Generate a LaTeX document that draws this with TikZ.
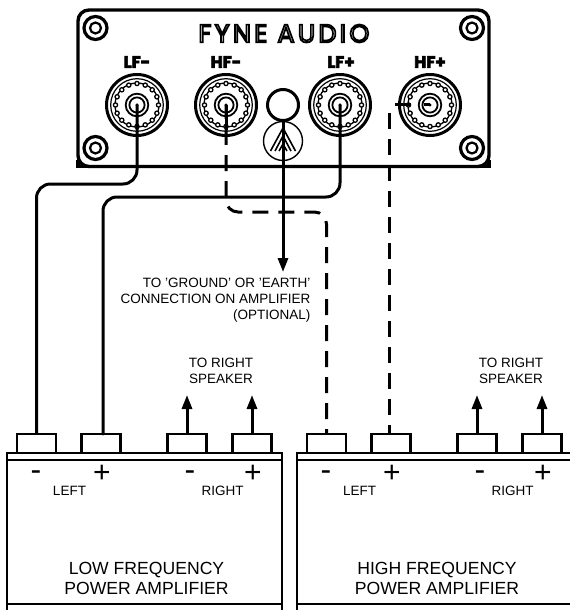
\documentclass[tikz,border=0pt]{standalone}
\usepackage{fontspec}
\setmainfont{Liberation Sans}
\newfontfamily\titlefont[LetterSpace=13]{Poppins}
\newfontfamily\jackfont{Poppins}
\usetikzlibrary{arrows.meta}
\tikzset{
  x=1bp,y=-1bp,
  panel/.style={draw,line width=3.4bp},
  wire/.style={draw,line width=3bp,line cap=round},
  dashwire/.style={wire,line cap=butt,dash pattern=on 16bp off 10bp},
  feed/.style={wire,line cap=butt,-{Triangle[length=14bp,width=10bp]}},
  term/.style={draw,line width=2.1bp,minimum width=39bp,minimum height=19bp,inner sep=0pt,fill=white},
  lab/.style={font=\fontsize{13.5bp}{16bp}\selectfont,align=center,inner sep=0pt},
  big/.style={font=\fontsize{17.6bp}{19.6bp}\selectfont,align=center,inner sep=0pt},
  plus/.style={font=\fontsize{30bp}{30bp}\selectfont,inner sep=0pt},
  minus/.style={font=\fontsize{32bp}{32bp}\selectfont,inner sep=0pt},
  jacklab/.style={inner sep=0pt},
  jack/.style={circle,inner sep=0pt,minimum size=62bp}
}
\newcommand{\jacktext}[1]{\special{pdf:code q 2 Tr 0.7 w 0 0 0 RG 0 0 0 rg}\jackfont\bfseries\fontsize{16.5bp}{17bp}\selectfont #1\special{pdf:code Q}}
\newcommand{\drawjack}[2]{%
  \begin{scope}[shift={#1}]
    \draw[line width=3bp] (0,0) circle (30.5bp);
    \draw[line width=1.2bp] (0,0) circle (26.3bp);
    \draw[line width=1.3bp] (0,0) circle (22bp);
    \foreach \a in {0,22.5,...,337.5}{\draw[line width=1.3bp,fill=white] (\a:21.5bp) circle (2.1bp);}
    \draw[line width=1.8bp] (0,0) circle (11.3bp);
    \draw[line width=1.8bp] (0,0) circle (7.6bp);
    \fill (0,0) circle (1.6bp);
  \end{scope}
  \node[jack] (#2) at #1 {};
}
\newcommand{\drawscrew}[1]{%
  \draw[line width=3.2bp] #1 circle (11.5bp);
  \draw[line width=2.2bp] #1 circle (5.5bp);
}
\newcommand{\drawamp}[1]{%
  \begin{scope}[xshift=#1]
    \draw[line width=2bp] (7,612)--(7,453.3)--(281.8,453.3)--(281.8,612);
    \draw[line width=2bp] (7,459.8)--(281.8,459.8);
    \draw[line width=2bp] (7,604)--(281.8,604);
  \end{scope}
}
\begin{document}
\begin{tikzpicture}
\useasboundingbox (0,0) rectangle (570,610);
\clip (0,0) rectangle (570,610);
% panel
\draw[panel,rounded corners=11bp] (78,166.5) -- (78,10) -- (489,10) -- (489,166.5) -- cycle;
\draw[panel] (78,160) -- (78,166.5) -- (489,166.5) -- (489,160);
\drawscrew{(95.5,28)}
\drawscrew{(95.5,148)}
\drawscrew{(472,28)}
\drawscrew{(472,148)}
% title
\node[inner sep=0pt] (title) at (284,33.5) {\special{pdf:code q 2 Tr 1.7 w 0 0 0 RG 1 1 1 rg}\titlefont\fontsize{25.5bp}{25.5bp}\selectfont FYNE AUDIO\special{pdf:code Q}};
% jacks
\drawjack{(137,105)}{lfm}
\drawjack{(226,105)}{hfm}
\drawjack{(340,105)}{lfp}
\drawjack{(430,105)}{hfp}
\node[jacklab] (l1) at (137,62) {\jacktext{LF-}};
\node[jacklab] (l2) at (226,62) {\jacktext{HF-}};
\node[jacklab] (l3) at (341,62) {\jacktext{LF+}};
\node[jacklab] (l4) at (430,62) {\jacktext{HF+}};
% ground post and logo
\node[circle,draw,line width=3bp,minimum size=31bp,inner sep=0pt] (post) at (283,105) {};
\node[circle,draw,line width=1.4bp,minimum size=39bp,inner sep=0pt] (logo) at (283,141) {};
\draw[line width=1.6bp] (270.5,151)--(283,128)--(295.5,151);
\draw[line width=1.6bp] (275,151)--(283,136)--(291,151);
\draw[line width=1.6bp] (279,151)--(283,144)--(287,151);
\drawamp{0}
\drawamp{290bp}
% terminals
\node[term] (a1) at (36.5,443.5) {};
\node[term] (a2) at (101,443.5) {};
\node[term] (a3) at (187,443.5) {};
\node[term] (a4) at (252,443.5) {};
\node[term] (b1) at (326.5,443.5) {};
\node[term] (b2) at (391,443.5) {};
\node[term] (b3) at (477,443.5) {};
\node[term] (b4) at (542,443.5) {};
% wires
\draw[wire,rounded corners=14bp] (lfm.center) -- (lfm.center |- 0,184) -- (a1.north |- 0,184) -- (a1.north);
\draw[wire,rounded corners=14bp] (lfp.center) -- (lfp.center |- 0,197) -- (103,197) -- (103,434);
\draw[feed] (post.south) -- (283,272);
\coordinate (gnd) at (283,272);
\draw[wire,line cap=butt] (hfm.center) -- (226,130);
\draw[dashwire,dash phase=2bp,rounded corners=12bp] (hfm.center) -- (226,212) -- (b1.north |- 0,212) -- (b1.north);
\draw[dashwire] (389,113) -- (389,434);
\draw[wire,line cap=butt] (395,105) -- (411,105);
\draw[wire,line cap=butt] (424,105) -- (hfp.center);
\foreach \t/\y in {a3/395,a4/395,b3/395,b4/395}{\draw[feed] (\t.north) -- (\t.north |- 0,\y);}
% texts
\node[lab,align=right,anchor=east] (g) at (310.5,300.5) {TO 'GROUND' OR 'EARTH'\\CONNECTION ON AMPLIFIER\\(OPTIONAL)};
\node[lab] (r1) at (221,371) {TO RIGHT\\SPEAKER};
\node[lab] (r2) at (511,371) {TO RIGHT\\SPEAKER};
\node[minus] (m1) at (36,476) {-};
\node[plus] (p1) at (102,473.5) {+};
\node[minus] (m2) at (190,476) {-};
\node[plus] (p2) at (253,473.5) {+};
\node[minus] (m3) at (326,476) {-};
\node[plus] (p3) at (392,473.5) {+};
\node[minus] (m4) at (480,476) {-};
\node[plus] (p4) at (543,473.5) {+};
\node[lab] (s1) at (69.5,491) {LEFT};
\node[lab] (s2) at (222.5,491) {RIGHT};
\node[lab] (s3) at (359.5,491) {LEFT};
\node[lab] (s4) at (512.5,491) {RIGHT};
\node[big] (n1) at (146.5,578.5) {LOW FREQUENCY\\POWER AMPLIFIER};
\node[big] (n2) at (437,578.5) {HIGH FREQUENCY\\POWER AMPLIFIER};
\end{tikzpicture}
\end{document}
